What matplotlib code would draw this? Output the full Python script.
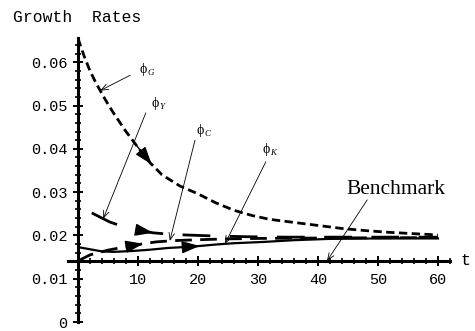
import numpy as np
import matplotlib
matplotlib.use('Agg')
import matplotlib.pyplot as plt
from matplotlib.ticker import MultipleLocator, FixedLocator

# growth paths read per variable
t_G = [0, 1, 2, 3, 4, 5, 6, 8, 10, 12, 14, 17, 20, 23, 26, 29, 32, 36, 40, 44, 48, 52, 56, 60]
phi_G = [0.0655, 0.0615, 0.0580, 0.0552, 0.0527, 0.0503, 0.0481, 0.0440, 0.0403, 0.0368,
         0.0340, 0.0314, 0.0296, 0.0275, 0.0258, 0.0246, 0.0237, 0.0230, 0.0223, 0.0216,
         0.0211, 0.0207, 0.0204, 0.0201]

t_Y = [2.3, 4, 5.3, 8, 10, 12.5, 15, 18, 22, 28, 35, 45, 60]
phi_Y = [0.0252, 0.0240, 0.0231, 0.0218, 0.0212, 0.0206, 0.0203, 0.0201, 0.0199, 0.0197,
         0.0196, 0.0196, 0.0196]

t_C = [0, 2, 5, 8, 11, 13, 16, 20, 25, 30, 40, 60]
phi_C = [0.0141, 0.0155, 0.0166, 0.0174, 0.0181, 0.0185, 0.0188, 0.0190, 0.0192, 0.0193,
         0.0194, 0.0195]

t_K = [0, 2, 4, 6, 9, 12, 15, 19, 23, 26, 31, 36, 42, 50, 60]
phi_K = [0.0173, 0.0168, 0.0163, 0.0162, 0.0164, 0.0167, 0.0171, 0.0174, 0.0179, 0.0182,
         0.0185, 0.0189, 0.0192, 0.0193, 0.0193]

benchmark = 0.0141

fig = plt.figure(figsize=(4.75, 3.31), dpi=100)
ax = fig.add_axes([78 / 475, 1 - 322 / 331, 372 / 475, 284 / 331])
ax.set_xlim(0, 62)
ax.set_ylim(0, 0.0656)

mono = 'Liberation Mono'
serif = ['Liberation Serif', 'DejaVu Serif']

ax.plot(t_G, phi_G, color='k', lw=2.0, dashes=(3.0, 1.6))
ax.plot(t_Y, phi_Y, color='k', lw=2.0, dashes=(10, 7))
ax.plot(t_C, phi_C, color='k', lw=2.0, dashes=(6, 3))
ax.plot(t_K, phi_K, color='k', lw=1.6)


def along(ts, vs, tip, back=2.6):
    # filled arrowhead sitting on the curve, pointing forward in t
    y_tip = np.interp(tip, ts, vs)
    y_base = np.interp(tip - back, ts, vs)
    ax.annotate('', xy=(tip, y_tip), xytext=(tip - back, y_base),
                arrowprops=dict(arrowstyle='-|>,head_length=1.1,head_width=0.38',
                                mutation_scale=10, color='k', lw=1.0,
                                shrinkA=0, shrinkB=0))


along(t_G, phi_G, 12.3)
along(t_Y, phi_Y, 12.5)
along(t_C, phi_C, 10.9)
along(t_K, phi_K, 20.3)


def pointer(sub, lx, ly, sx, sy, ts, vs, at):
    ax.text(lx, ly, '\u03d5', fontsize=10, ha='center', va='center', family=serif)
    ax.text(lx + 0.75, ly - 0.0008, sub, fontsize=6.5, ha='left', va='center',
            family=serif, style='italic')
    ax.annotate('', xy=(at, np.interp(at, ts, vs)), xytext=(sx, sy),
                arrowprops=dict(arrowstyle='->,head_length=0.5,head_width=0.2',
                                color='k', lw=0.6, shrinkA=0, shrinkB=0))


pointer('G', 10.9, 0.0584, 8.7, 0.0570, t_G, phi_G, 3.7)
pointer('Y', 12.9, 0.0505, 11.3, 0.0483, t_Y, phi_Y, 4.2)
pointer('C', 20.4, 0.0443, 19.5, 0.0420, t_C, phi_C, 15.3)
pointer('K', 31.3, 0.0399, 31.3, 0.0370, t_K, phi_K, 24.5)

ax.text(53.0, 0.0305, 'Benchmark', fontsize=15.5, ha='center', va='center', family=serif)
ax.annotate('', xy=(41.5, benchmark), xytext=(48.2, 0.0282),
            arrowprops=dict(arrowstyle='->,head_length=0.5,head_width=0.2',
                            color='k', lw=0.6, shrinkA=0, shrinkB=0))

# axes drawn through the benchmark level
for s in ['top', 'right']:
    ax.spines[s].set_visible(False)
ax.spines['left'].set_position(('data', 0))
ax.spines['bottom'].set_position(('data', benchmark))
ax.spines['left'].set_linewidth(2.2)
ax.spines['bottom'].set_linewidth(2.2)
ax.spines['bottom'].set_bounds(-1.6, 62)

ax.xaxis.set_major_locator(FixedLocator([10, 20, 30, 40, 50, 60]))
ax.xaxis.set_minor_locator(MultipleLocator(2))
ax.yaxis.set_major_locator(MultipleLocator(0.01))
ax.yaxis.set_minor_locator(MultipleLocator(0.002))
ax.yaxis.set_major_formatter(matplotlib.ticker.FuncFormatter(
    lambda v, p: '0' if abs(v) < 1e-9 else '%.2f' % v))

ax.tick_params(which='major', direction='inout', length=7, width=1.4,
               labelsize=11, pad=4)
ax.tick_params(which='minor', direction='inout', length=4, width=1.2)
ax.tick_params(axis='x', which='major', pad=5)
for lab in ax.get_xticklabels() + ax.get_yticklabels():
    lab.set_family(mono)

fig.text(13 / 475, 1 - 17 / 331, 'Growth  Rates', fontsize=11.8, family=mono,
         ha='left', va='center')
ax.text(64.5, benchmark, 't', fontsize=12, family=mono, ha='center', va='center')

fig.savefig('out.png', dpi=100)
